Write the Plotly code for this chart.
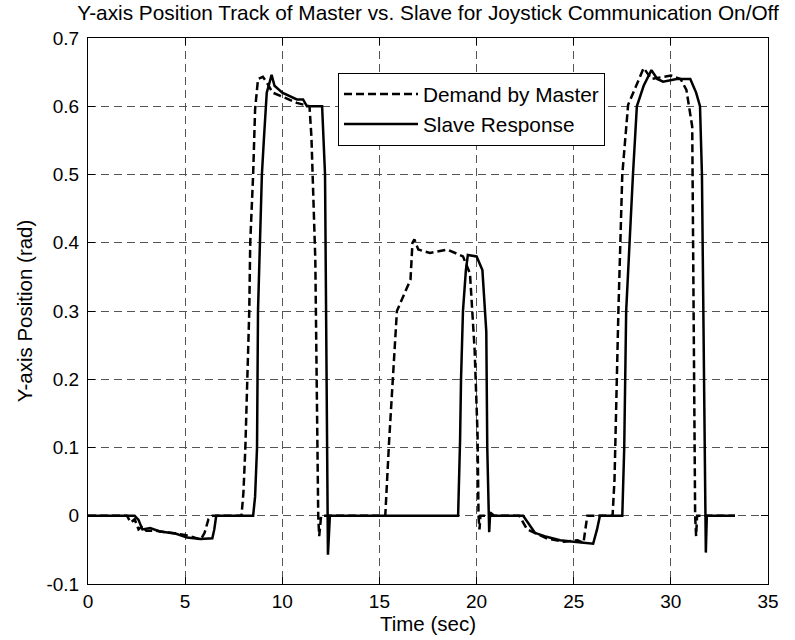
import plotly.graph_objects as go

# Demand by Master (dashed)
t_master = [0, 2.0, 2.2, 2.4, 2.6, 2.8, 3.0, 3.5, 4.0, 4.5, 5.0, 5.5, 5.8, 6.0, 6.2, 6.4,
            7.0, 7.9, 8.0, 8.1, 8.2, 8.3, 8.35, 8.5, 8.6, 8.75, 9.0, 9.2, 9.5, 10.2, 10.75,
            11.4, 11.5, 11.7, 11.8, 11.85, 11.9, 12.0, 13.0, 15.3, 15.5, 15.7, 15.9, 16.6,
            16.7, 16.8, 17.0, 17.6, 18.5, 19.3, 19.66, 19.9, 20.05, 20.1, 20.15, 20.2, 21.0,
            22.2, 22.6, 23.0, 23.6, 24.5, 25.2, 25.5, 25.7, 27.0, 27.1, 27.3, 27.5, 27.8,
            28.2, 28.6, 29.0, 30.0, 30.5, 30.8, 31.1, 31.2, 31.25, 31.3, 31.35, 31.5, 33.3]
y_master = [0, 0, -0.01, -0.005, -0.02, -0.015, -0.022, -0.022, -0.024, -0.026, -0.028, -0.032,
            -0.035, -0.025, -0.005, 0, 0, 0, 0.034, 0.1, 0.2, 0.3, 0.4, 0.5, 0.595, 0.64, 0.643,
            0.635, 0.62, 0.612, 0.605, 0.60, 0.555, 0.375, 0.1, 0, -0.03, 0, 0, 0, 0.11, 0.2,
            0.3, 0.346, 0.40, 0.405, 0.39, 0.385, 0.39, 0.38, 0.355, 0.243, 0.12, 0.0, -0.02,
            0, 0, 0, -0.02, -0.025, -0.033, -0.038, -0.036, -0.04, 0, 0, 0.053, 0.3, 0.5,
            0.602, 0.63, 0.656, 0.64, 0.645, 0.64, 0.624, 0.57, 0.2, 0, -0.03, 0.0, 0, 0]

# Slave Response (solid)
t_slave = [0, 2.4, 2.6, 2.8, 3.2, 3.7, 4.5, 5.1, 5.8, 6.4, 6.5, 6.6, 8.5, 8.6, 8.7, 8.75,
           8.85, 8.95, 9.05, 9.2, 9.3, 9.45, 9.6, 10.0, 10.75, 11.07, 11.27, 12.05, 12.2,
           12.25, 12.3, 12.35, 12.45, 12.6, 19.05, 19.15, 19.2, 19.3, 19.45, 19.55, 20.0,
           20.3, 20.5, 20.55, 20.6, 20.65, 20.7, 20.9, 22.4, 23.0, 23.5, 24.3, 25.0, 26.0,
           26.2, 26.35, 27.5, 27.6, 27.65, 27.7, 28.05, 28.25, 28.6, 29.0, 29.3, 29.6, 30.3,
           31.0, 31.3, 31.5, 31.6, 31.7, 31.75, 31.8, 31.85, 32.0, 33.3]
y_slave = [0, 0, -0.006, -0.02, -0.018, -0.023, -0.026, -0.032, -0.034, -0.033, -0.02, 0, 0,
           0.028, 0.1, 0.3, 0.4, 0.5, 0.55, 0.62, 0.63, 0.646, 0.63, 0.62, 0.61, 0.61, 0.60,
           0.60, 0.5, 0.3, 0, -0.057, 0, 0, 0, 0.11, 0.2, 0.3, 0.36, 0.382, 0.38, 0.36, 0.27,
           0.1, 0, -0.024, 0.005, 0, 0, -0.025, -0.03, -0.036, -0.038, -0.041, -0.02, 0, 0,
           0.1, 0.2, 0.3, 0.5, 0.6, 0.63, 0.653, 0.64, 0.636, 0.64, 0.64, 0.62, 0.6, 0.5, 0.2,
           0, -0.054, 0, 0, 0]

x_ticks = [0, 5, 10, 15, 20, 25, 30, 35]
y_ticks = [-0.1, 0, 0.1, 0.2, 0.3, 0.4, 0.5, 0.6, 0.7]
y_tick_text = ["-0.1", "0", "0.1", "0.2", "0.3", "0.4", "0.5", "0.6", "0.7"]

FONT = "Liberation Sans, Arial, sans-serif"
TXT = 20.5

fig = go.Figure()
fig.add_trace(go.Scatter(x=t_master, y=y_master, mode="lines", name="Demand by Master",
                         line=dict(color="black", width=2.5, dash="8px,4px"),
                         legendgroup="a"))
fig.add_trace(go.Scatter(x=t_slave, y=y_slave, mode="lines", name="Slave Response",
                         line=dict(color="black", width=2.5), legendgroup="b"))

axis_common = dict(
    showline=True, linecolor="black", linewidth=1, mirror="ticks",
    ticks="inside", ticklen=7, tickcolor="black", tickwidth=1,
    showgrid=True, gridcolor="#555555", gridwidth=1, griddash="8px,5px",
    zeroline=False, tickfont=dict(family=FONT, size=19, color="black"),
    automargin=False,
)

fig.update_xaxes(range=[0, 35], tickvals=x_ticks, ticktext=[str(v) for v in x_ticks],
                 title=dict(text="Time (sec)", font=dict(family=FONT, size=TXT, color="black"),
                            standoff=4),
                 **axis_common)
fig.update_yaxes(range=[-0.1, 0.7], tickvals=y_ticks, ticktext=y_tick_text,
                 ticklabelstandoff=4,
                 title=dict(text="Y-axis Position (rad)", font=dict(family=FONT, size=TXT, color="black"),
                            standoff=8),
                 **axis_common)

W, H = 795, 640
fig.update_layout(
    width=W, height=H,
    margin=dict(l=88, r=27, t=38, b=56),
    paper_bgcolor="white", plot_bgcolor="white",
    title=dict(text="Y-axis Position Track of Master vs. Slave for Joystick Communication On/Off",
               font=dict(family=FONT, size=20.8, color="black"),
               x=(88 + 768) / 2 / W, xanchor="center", y=1 - 13 / H, yanchor="middle"),
    showlegend=True,
    legend=dict(x=(338 - 88) / 680, y=(584 - 73) / 546, xanchor="left", yanchor="top",
                bgcolor="white", bordercolor="black", borderwidth=1,
                font=dict(family=FONT, size=20.8, color="black"),
                itemwidth=74, tracegroupgap=0),
)

fig.write_html("out.html", post_script="document.body.style.margin='0';",
               config={"displayModeBar": False})
